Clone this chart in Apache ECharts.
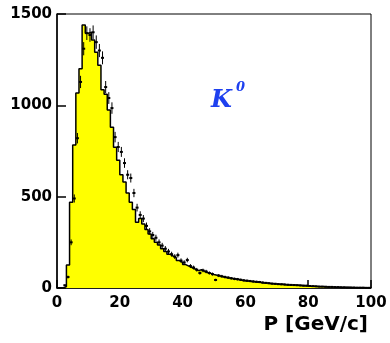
<!DOCTYPE html>
<html>
<head>
<meta charset="utf-8">
<script src="https://cdn.jsdelivr.net/npm/echarts@6/dist/echarts.min.js"></script>
<style>
  html, body { margin: 0; padding: 0; background: #fff; }
  #chart { width: 390px; height: 343px; }
</style>
</head>
<body>
<div id="chart"></div>
<script>
// 直方图 (1 GeV 一格, 0-100)
var binEdges = [
  0, 1, 2, 3, 4, 5, 6, 7, 8, 9,
  10, 11, 12, 13, 14, 15, 16, 17, 18, 19,
  20, 21, 22, 23, 24, 25, 26, 27, 28, 29,
  30, 31, 32, 33, 34, 35, 36, 37, 38, 39,
  40, 41, 42, 43, 44, 45, 46, 47, 48, 49,
  50, 51, 52, 53, 54, 55, 56, 57, 58, 59,
  60, 61, 62, 63, 64, 65, 66, 67, 68, 69,
  70, 71, 72, 73, 74, 75, 76, 77, 78, 79,
  80, 81, 82, 83, 84, 85, 86, 87, 88, 89,
  90, 91, 92, 93, 94, 95, 96, 97, 98, 99, 100
]
var histValues = [
  0, 0, 8, 126, 470, 783, 1067, 1200, 1440, 1395,
  1400, 1357, 1290, 1220, 1085, 1060, 975, 880, 770, 700,
  620, 580, 520, 470, 430, 360, 380, 350, 320, 295,
  270, 250, 235, 215, 200, 185, 175, 165, 150, 140,
  128, 120, 112, 104, 95, 100, 92, 85, 80, 74,
  70, 66, 62, 58, 55, 52, 49, 46, 43, 40,
  38, 36, 34, 32, 30, 28, 27, 25, 23, 22,
  21, 20, 18, 17, 16, 16, 15, 14, 12, 11,
  10, 9, 8, 7, 7, 6, 5, 5, 4, 4,
  3, 3, 3, 2, 2, 2, 2, 1, 1, 1
]
// 数据点 (bin center)
var dataValues = [
  null, null, 15, 60, 250, 490, 820, 1128, 1310, 1395,
  1385, 1400, 1346, 1300, 1260, 1100, 1040, 985, 826, 772,
  745, 684, 620, 602, 520, 440, 400, 380, 340, 310,
  290, 275, 250, 232, 215, 200, 185, 172, 180, 150,
  140, 153, 120, 112, 100, 82, 96, 90, 82, 76,
  44, 68, 64, 60, 57, 53, 50, 48, 45, 42,
  40, 38, 36, 34, 33, 30, 28, 26, 24, 23,
  21, 20, 19, 18, 17, 16, 15, 14, 13, 13,
  11, 10, 9, 8, 8, 7, 6, 6, 5, 5,
  4, 4, 3, 3, 3, 2, 2, 2, 1, 1
]
var xTicks = [0, 20, 40, 60, 80, 100]
var yTicks = [0, 500, 1000, 1500]

var histData = []
for (var i = 0; i < histValues.length; i++) {
  histData.push([binEdges[i], histValues[i]])
}
histData.push([binEdges[histValues.length], histValues[histValues.length - 1]])

var pointData = []
for (var j = 0; j < dataValues.length; j++) {
  if (dataValues[j] == null) continue
  var c = (binEdges[j] + binEdges[j + 1]) / 2
  pointData.push([c, dataValues[j], Math.sqrt(dataValues[j])])
}

var labelFont = { color: '#000', fontFamily: 'DejaVu Sans', fontWeight: 'bold', fontSize: 15 }

var myChart = echarts.init(document.getElementById('chart'), null, { renderer: 'canvas' })
var option = {
  backgroundColor: '#fff',
  animation: false,
  grid: {
    left: 57, right: 19, top: 14, bottom: 55,
    show: true, borderColor: '#000', borderWidth: 1, backgroundColor: 'transparent'
  },
  xAxis: {
    type: 'value',
    min: xTicks[0], max: xTicks[xTicks.length - 1], interval: 20,
    axisLine: { lineStyle: { color: '#000', width: 1.5 } },
    axisTick: { inside: true, length: 8, lineStyle: { color: '#000', width: 1.5 } },
    axisLabel: Object.assign({ margin: 8, formatter: function (v) { return String(v) } }, labelFont),
    splitLine: { show: false }
  },
  yAxis: {
    type: 'value',
    min: yTicks[0], max: yTicks[yTicks.length - 1], interval: 500,
    axisLine: { show: true, lineStyle: { color: '#000', width: 1.5 } },
    axisTick: { show: true, inside: true, length: 9, lineStyle: { color: '#000', width: 1.5 } },
    axisLabel: Object.assign({ margin: 5, formatter: function (v) { return String(v) } }, labelFont),
    splitLine: { show: false }
  },
  graphic: [
    {
      type: 'text', x: 368, y: 325, z: 10,
      style: {
        text: 'P [GeV/c]', fill: '#000', align: 'right', verticalAlign: 'middle',
        font: 'bold 20px "DejaVu Sans"'
      }
    },
    {
      type: 'text', x: 211, y: 101, z: 10,
      style: {
        text: 'K', fill: '#1e40ef', align: 'left', verticalAlign: 'middle',
        font: 'italic bold 24px "DejaVu Serif"'
      }
    },
    {
      type: 'text', x: 236, y: 88, z: 10,
      style: {
        text: '0', fill: '#1e40ef', align: 'left', verticalAlign: 'middle',
        font: 'italic bold 13px "DejaVu Serif"'
      }
    }
  ],
  series: [
    {
      name: 'hist',
      type: 'line',
      step: 'end',
      data: histData,
      symbol: 'none',
      lineStyle: { color: '#000', width: 1.5 },
      areaStyle: { color: '#ffff00', opacity: 1 },
      z: 2
    },
    {
      name: 'data',
      type: 'custom',
      data: pointData,
      z: 3,
      renderItem: function (params, api) {
        var x = api.value(0), y = api.value(1), e = api.value(2)
        var p = api.coord([x, y])
        var hi = api.coord([x, y + e])
        var lo = api.coord([x, Math.max(y - e, 0)])
        return {
          type: 'group',
          children: [
            { type: 'line', shape: { x1: p[0], y1: hi[1], x2: p[0], y2: lo[1] }, style: { stroke: '#000', lineWidth: 1 } },
            { type: 'rect', shape: { x: p[0] - 1.5, y: p[1] - 1, width: 3, height: 2 }, style: { fill: '#000' } }
          ]
        }
      }
    }
  ]
}
myChart.setOption(option)
</script>
</body>
</html>
